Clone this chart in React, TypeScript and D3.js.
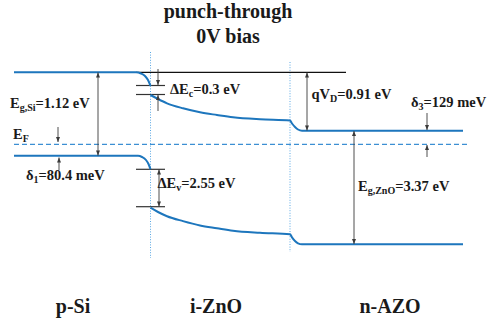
import React from "react";
import * as d3 from "d3";

// Schematic band diagram of a p-Si / i-ZnO / n-AZO punch-through structure at 0 V bias.
// Coordinates are in schematic units: x = position through the stack, y = energy depth below the top level.

const W = 487;
const H = 321;

// band edges, [position, depth]
const siConduction: [number, number][] = [[0, 0.3], [122, 0.3], [127, 1.5], [131, 4], [134, 8], [136.5, 14]];
const siValence: [number, number][] = [[0, 83.8], [124, 83.8], [128, 85], [132, 88], [134.5, 92], [136.5, 97.3]];
const znoConduction: [number, number][] = [
  [136.5, 23], [144, 27], [153, 31.3], [169, 36.3], [186, 40.3], [203, 43], [219, 45.3], [246, 47.3], [276, 48.5],
  [278, 51.5], [281, 55], [284, 57.5], [288, 58.8], [449, 58.8],
];
const znoValence: [number, number][] = [
  [136.5, 135.7], [144, 140], [153, 144.2], [169, 149.1], [186, 153.4], [203, 156.2], [219, 158.7], [246, 160.8], [276, 162.3],
  [278, 165.3], [281, 169], [284, 171.3], [288, 172.3], [449, 172.3],
];
const fermiLevel = 72.3;
const fermiSpan: [number, number] = [0, 454];
const topLevel = 0.3;
const topLevelSpan: [number, number] = [122, 332];

// interfaces (dotted)
const interfaces = [
  { x: 136.5, y1: -20, y2: 186 },
  { x: 276, y1: -10, y2: 180 },
];

// band offset marker ticks at the first interface
const offsetTicks = [13.5, 22.5, 97.3, 134.7];
const offsetTickSpan: [number, number] = [122, 151];

// arrows: x, from, to, heads at start / end
const arrows = [
  { x: 84, y1: 0.5, y2: 83.5, start: true, end: true },
  { x: 44, y1: 55, y2: 70, start: false, end: true },
  { x: 45, y1: 98, y2: 85.5, start: false, end: true },
  { x: 144, y1: -3, y2: 13, start: false, end: true },
  { x: 144, y1: 39, y2: 23, start: false, end: true },
  { x: 145, y1: 97.6, y2: 134.4, start: true, end: true },
  { x: 293, y1: 0.5, y2: 58.5, start: true, end: true },
  { x: 413, y1: 41, y2: 58, start: false, end: true },
  { x: 413, y1: 85, y2: 73, start: false, end: true },
  { x: 340, y1: 59, y2: 172, start: true, end: true },
];

// annotation labels: main text, subscript, trailing text
const labels = [
  { x: -4, y: 35.5, main: "E", sub: "g,Si", rest: "=1.12 eV" },
  { x: -1, y: 67, main: "E", sub: "F", rest: "" },
  { x: 12, y: 107.5, main: "δ", sub: "1", rest: "=80.4 meV" },
  { x: 156, y: 22, main: "ΔE", sub: "c", rest: "=0.3 eV" },
  { x: 143.5, y: 116.3, main: "ΔE", sub: "v", rest: "=2.55 eV" },
  { x: 297.5, y: 27, main: "qV", sub: "D", rest: "=0.91 eV" },
  { x: 397, y: 35.3, main: "δ", sub: "3", rest: "=129 meV" },
  { x: 344, y: 118.7, main: "E", sub: "g,ZnO", rest: "=3.37 eV" },
];

const titleLines = ["punch-through", "0V bias"];
const layers = [
  { name: "p-Si", x: 59 },
  { name: "i-ZnO", x: 202 },
  { name: "n-AZO", x: 376 },
];

const BLUE = "#1d76bd";
const DASH_BLUE = "#3c8fd3";
const DOT_BLUE = "#5aa8e4";
const ARROW = "#3b3b3b";
const TEXT = "#1a1a1a";
const FONT = "'Liberation Serif', 'Times New Roman', serif";

export default function App() {
  const x = d3.scaleLinear().domain([0, 454]).range([14, 468]);
  const y = d3.scaleLinear().domain([0, 172]).range([72, 244]);

  const band = d3
    .line<[number, number]>()
    .x((d) => x(d[0]))
    .y((d) => y(d[1]))
    .curve(d3.curveMonotoneX);

  const bands = [siConduction, siValence, znoConduction, znoValence];

  return (
    <div style={{ position: "fixed", left: 0, top: 0 }}>
      <svg width={W} height={H} viewBox={`0 0 ${W} ${H}`} style={{ display: "block", background: "#fff" }}>
        <defs>
          <marker id="head" viewBox="0 0 10 10" refX="10" refY="5" markerWidth="6" markerHeight="5" orient="auto-start-reverse" markerUnits="userSpaceOnUse">
            <path d="M0,1 L10,5 L0,9 Z" fill={ARROW} />
          </marker>
        </defs>

        {/* title */}
        {titleLines.map((t, i) => (
          <text key={t} x={228} y={18 + i * 25} textAnchor="middle" fontFamily={FONT} fontWeight="bold" fontSize={20} fill={TEXT}>
            {t}
          </text>
        ))}

        {/* interfaces */}
        {interfaces.map((d, i) => (
          <line key={i} x1={x(d.x)} x2={x(d.x)} y1={y(d.y1)} y2={y(d.y2)} stroke={DOT_BLUE} strokeWidth={1} strokeDasharray="1 1.6" />
        ))}

        {/* Fermi level */}
        <line x1={x(fermiSpan[0])} x2={x(fermiSpan[1])} y1={y(fermiLevel)} y2={y(fermiLevel)} stroke={DASH_BLUE} strokeWidth={1.3} strokeDasharray="5 3" />

        {/* reference level and offset ticks */}
        <line x1={x(topLevelSpan[0])} x2={x(topLevelSpan[1])} y1={y(topLevel)} y2={y(topLevel)} stroke="#111" strokeWidth={1.2} />
        {offsetTicks.map((v, i) => (
          <line key={i} x1={x(offsetTickSpan[0])} x2={x(offsetTickSpan[1])} y1={y(v)} y2={y(v)} stroke="#333" strokeWidth={1.2} />
        ))}

        {/* band edges */}
        {bands.map((b, i) => (
          <path key={i} d={band(b) ?? ""} fill="none" stroke={BLUE} strokeWidth={2} />
        ))}

        {/* arrows */}
        {arrows.map((a, i) => (
          <line
            key={i}
            x1={x(a.x)}
            x2={x(a.x)}
            y1={y(a.y1)}
            y2={y(a.y2)}
            stroke={ARROW}
            strokeWidth={0.9}
            markerStart={a.start ? "url(#head)" : undefined}
            markerEnd={a.end ? "url(#head)" : undefined}
          />
        ))}

        {/* annotations */}
        {labels.map((l, i) => (
          <text key={i} x={x(l.x)} y={y(l.y)} fontFamily={FONT} fontWeight="bold" fontSize={14.5} fill={TEXT}>
            <tspan>{l.main}</tspan>
            <tspan fontSize={10} dy={3}>{l.sub}</tspan>
            {l.rest && <tspan dy={-3}>{l.rest}</tspan>}
          </text>
        ))}

        {/* layer names */}
        {layers.map((l) => (
          <text key={l.name} x={x(l.x)} y={313} textAnchor="middle" fontFamily={FONT} fontWeight="bold" fontSize={20} fill={TEXT}>
            {l.name}
          </text>
        ))}
      </svg>
    </div>
  );
}
